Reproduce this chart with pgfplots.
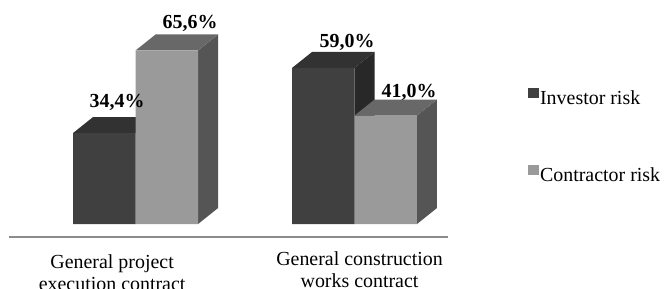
\documentclass[border=0pt]{standalone}
\usepackage{pgfplots}
\pgfplotsset{compat=1.18}
\usepackage{fontspec}
\setmainfont{Liberation Serif}
\definecolor{invfront}{HTML}{404040}
\definecolor{invtop}{HTML}{323232}
\definecolor{invside}{HTML}{282828}
\definecolor{confront}{HTML}{9A9A9A}
\definecolor{contop}{HTML}{686868}
\definecolor{conside}{HTML}{555555}
\def\dx{0.0913}\def\dy{6.05}\def\bw{0.2854}
% top and side faces of a 3D bar: #1 left x of front face, #2 value, #3 top colour, #4 side colour
\newcommand\barfaces[4]{%
  \pgfmathsetmacro\xa{#1}\pgfmathsetmacro\xb{#1+\bw}%
  \pgfmathsetmacro\xc{#1+\dx}\pgfmathsetmacro\xd{#1+\bw+\dx}%
  \pgfmathsetmacro\yt{#2+\dy}%
  \addplot[fill=#4,draw=none,forget plot] coordinates {(\xb,0) (\xd,\dy) (\xd,\yt) (\xb,#2)} -- cycle;
  \addplot[fill=#3,draw=none,forget plot] coordinates {(\xa,#2) (\xc,\yt) (\xd,\yt) (\xb,#2)} -- cycle;
}
\begin{document}
\begin{tikzpicture}
\begin{axis}[
  scale only axis, width=439bp, height=224.6bp,
  xmin=-0.578, xmax=1.427, ymin=-4.9, ymax=80,
  axis x line=bottom, axis y line=none,
  axis line style={-, draw=black!45, line width=1.3bp},
  ytick=\empty,
  xtick={-0.107,1.023},
  xticklabels={{\begin{tabular}[t]{@{}c@{}}General project\\execution contract\end{tabular}},
               {\raisebox{3bp}{\begin{tabular}[t]{@{}c@{}}General construction\\works contract\end{tabular}}}},
  xtick style={draw=none},
  xticklabel style={inner sep=0pt, anchor=north, text height=14bp, yshift=-15bp,
    font=\fontsize{20}{22}\selectfont},
  clip=false,
  legend style={at={(1.182,0.445)}, anchor=west, draw=none, fill=none, inner sep=0pt,
    font=\fontsize{20}{24}\selectfont, row sep=56bp,
    nodes={inner sep=1pt, text height=14bp, text depth=4bp}},
  legend cell align=left,
]
\barfaces{-0.2854}{34.4}{invtop}{invside}
\barfaces{0.7146}{59.0}{invtop}{invside}
\addplot[ybar, bar width=0.2854, bar shift=-0.1427, fill=invfront, draw=none,
  legend image code/.code={\fill[invfront] (0bp,1bp) rectangle (11bp,11bp);}]
  coordinates {(0,34.4) (1,59.0)};
\addlegendentry{Investor risk}
\barfaces{0}{65.6}{contop}{conside}
\barfaces{1}{41.0}{contop}{conside}
\addplot[ybar, bar width=0.2854, bar shift=0.1427, fill=confront, draw=none,
  legend image code/.code={\fill[confront] (0bp,1bp) rectangle (11bp,11bp);}]
  coordinates {(0,65.6) (1,41.0)};
\addlegendentry{Contractor risk}
\node[anchor=base, inner sep=0pt, font=\bfseries\fontsize{20}{24}\selectfont] at (axis cs:-0.0845,44.2) {34,4\%};
\node[anchor=base, inner sep=0pt, font=\bfseries\fontsize{20}{24}\selectfont] at (axis cs:0.249,74.1) {65,6\%};
\node[anchor=base, inner sep=0pt, font=\bfseries\fontsize{20}{24}\selectfont] at (axis cs:0.966,66.9) {59,0\%};
\node[anchor=base, inner sep=0pt, font=\bfseries\fontsize{20}{24}\selectfont] at (axis cs:1.249,48.0) {41,0\%};
\coordinate (bl) at (rel axis cs:0,0);
\coordinate (tr) at (rel axis cs:1,1);
\end{axis}
\pgfresetboundingbox
\path[use as bounding box] ([shift={(-9bp,-52bp)}]bl) rectangle ([shift={(219bp,12.4bp)}]tr);
\end{tikzpicture}
\end{document}
